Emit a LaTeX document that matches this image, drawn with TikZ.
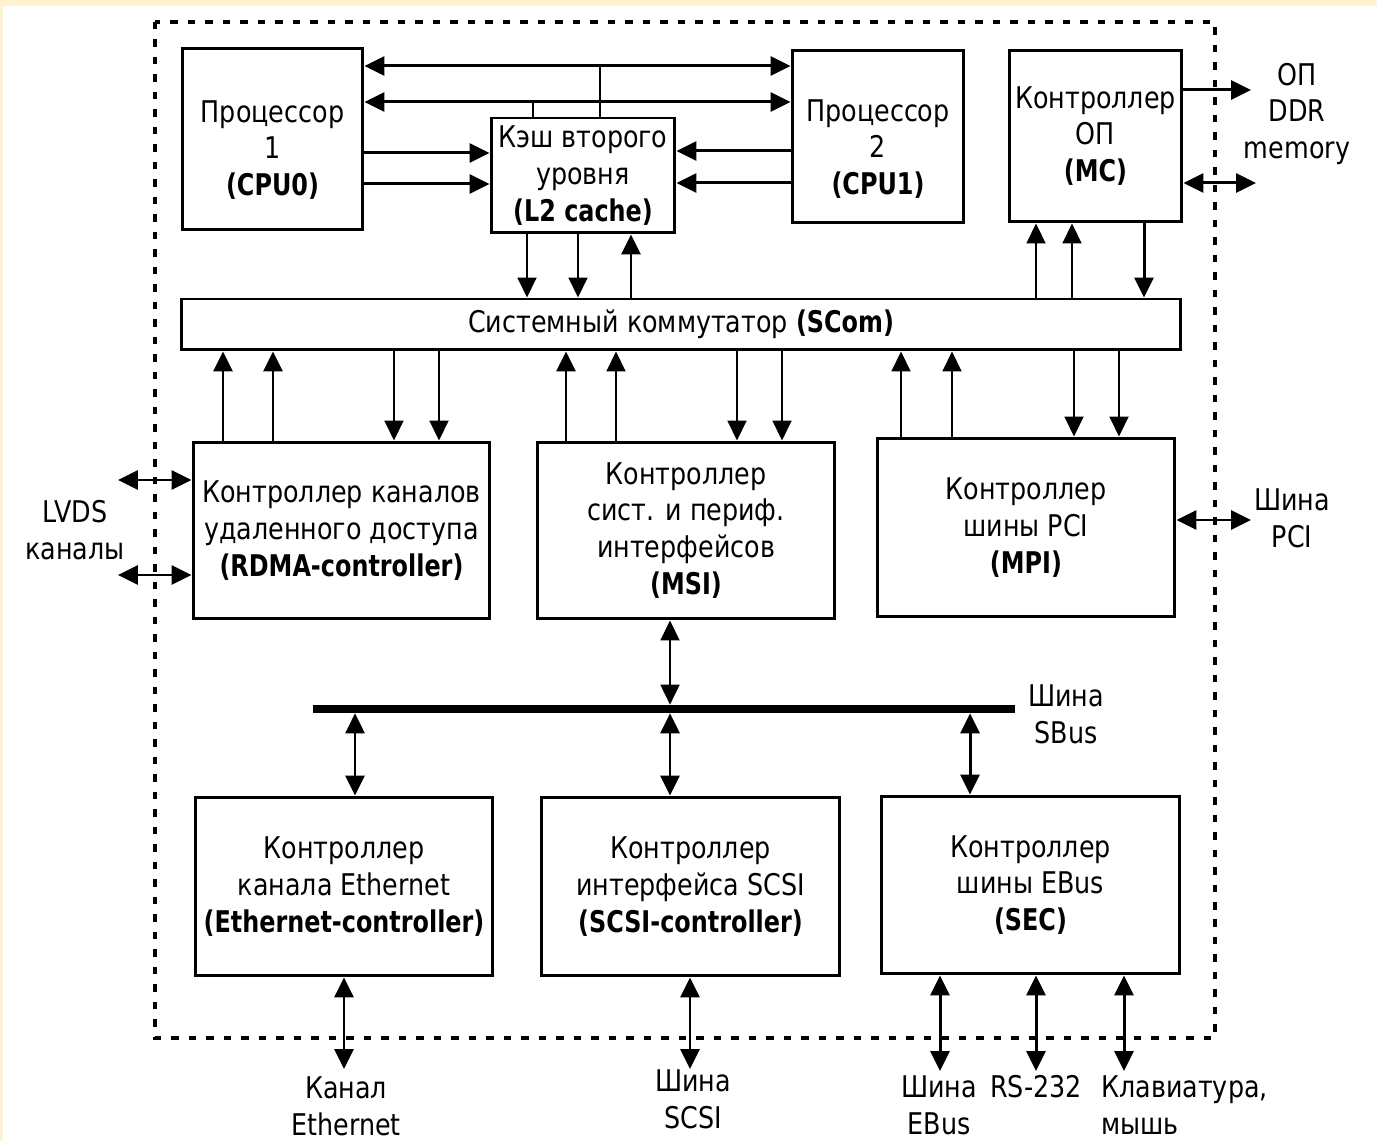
\documentclass[tikz,border=0pt]{standalone}
\usepackage{fontspec}
\setmainfont[FakeStretch=0.85, BoldFeatures={FakeStretch=0.8}]{DejaVu Sans}
\usetikzlibrary{arrows.meta,positioning}
\definecolor{paper}{RGB}{255,242,204}

\begin{document}
\begin{tikzpicture}[x=0.02cm, y=-0.02cm,
    every node/.style={font=\fontsize{17}{21}\selectfont},
    blk/.style={draw, line width=1.7pt, inner sep=2pt, align=center},
    lbl/.style={inner sep=0pt, align=center},
    ln/.style={line width=1.1pt},
    lnb/.style={line width=1.7pt},
    arr/.style={-{Triangle[length=0.4cm,width=0.38cm]}},
    darr/.style={{Triangle[length=0.4cm,width=0.38cm]}-{Triangle[length=0.4cm,width=0.38cm]}}]

  \fill[paper] (0,0) rectangle (1377,1141);
  \fill[white] (3,6) rectangle (1377,1141);
  \useasboundingbox (0,0) rectangle (1377,1141);

  \draw[line width=2pt, dash pattern=on 0.15cm off 0.2cm] (155,22) rectangle (1215,1038);

  % blocks
  \node[blk, minimum width=3.62cm, minimum height=3.64cm] (cpu0) at (272.5,139) {};
  \node[lbl] (cpu0txt) at (272.5,150) {Процессор\\1\\\textbf{(CPU0)}};
  \node[blk, minimum width=3.68cm, minimum height=2.30cm] (l2) at (583,175.5) {Кэш второго\\уровня\\\textbf{(L2 cache)}};
  \node[blk, minimum width=3.44cm, minimum height=3.46cm] (cpu1) at (878,136.5) {};
  \node[lbl] (cpu1txt) at (878,149) {Процессор\\2\\\textbf{(CPU1)}};
  \node[blk, minimum width=3.46cm, minimum height=3.44cm] (mc) at (1095.5,136) {Контроллер\\ОП\\\textbf{(MC)}};
  \node[blk, minimum width=20.0cm, minimum height=1.02cm] (scom) at (681,324.5) {Системный коммутатор \textbf{(SCom)}};
  \node[blk, minimum width=5.94cm, minimum height=3.54cm] (rdma) at (341.5,530.5) {Контроллер каналов\\удаленного доступа\\\textbf{(RDMA-controller)}};
  \node[blk, minimum width=5.96cm, minimum height=3.54cm] (msi) at (686,530.5) {Контроллер\\сист. и периф.\\интерфейсов\\\textbf{(MSI)}};
  \node[blk, minimum width=5.96cm, minimum height=3.58cm] (mpi) at (1026,527.5) {Контроллер\\шины PCI\\\textbf{(MPI)}};
  \node[fill, inner sep=0pt, minimum width=14.04cm, minimum height=0.16cm] (sbus) at (664,709) {};
  \node[blk, minimum width=5.96cm, minimum height=3.58cm] (eth) at (344,886.5) {Контроллер\\канала Ethernet\\\textbf{(Ethernet-controller)}};
  \node[blk, minimum width=5.98cm, minimum height=3.58cm] (scsi) at (690.5,886.5) {Контроллер\\интерфейса SCSI\\\textbf{(SCSI-controller)}};
  \node[blk, minimum width=5.98cm, minimum height=3.56cm] (sec) at (1030.5,885) {Контроллер\\шины EBus\\\textbf{(SEC)}};

  % outside labels
  \node[lbl] (ddr) at (1297,114) {ОП\\DDR\\memory};
  \node[lbl] (pci) at (1292,518) {Шина\\PCI};
  \node[lbl] (lvds) at (75,530) {LVDS\\каналы};
  \node[lbl] (sbuslbl) at (1066,714) {Шина\\SBus};
  \node[lbl] (ethlbl) at (346,1106) {Канал\\Ethernet};
  \node[lbl] (scsilbl) at (693,1099) {Шина\\SCSI};
  \node[lbl] (ebuslbl) at (939,1105) {Шина\\EBus};
  \node[lbl] (rslbl) at (1036,1087) {RS-232};
  \node[lbl, align=left, anchor=west] (kbdlbl) at (1101,1105) {Клавиатура,\\мышь};

  \coordinate (ddrout) at (1251,90);
  \coordinate (ddrio) at (1256,183);
  \coordinate (pciio) at (1251,520);
  \coordinate (lvdsa) at (118,480);
  \coordinate (lvdsb) at (118,575);
  \coordinate (ethio) at (344,1069);
  \coordinate (scsiio) at (690,1069);
  \coordinate (ebusio) at (940,1071);
  \coordinate (rsio) at (1036,1071);
  \coordinate (kbdio) at (1124,1071);

  % processors and cache
  \draw[lnb, darr] (cpu0.east |- 0,66) -- (cpu1.west |- 0,66);
  \draw[lnb, darr] (cpu0.east |- 0,102) -- (cpu1.west |- 0,102);
  \draw[ln] (cpu0.east -| 600,0) ++(0,-73) -- (l2.north -| 600,0);
  \draw[ln] (cpu0.east -| 533,0) ++(0,-37) -- (l2.north -| 533,0);
  \draw[lnb, arr] (cpu0.east |- 0,153) -- (l2.west |- 0,153);
  \draw[lnb, arr] (cpu0.east |- 0,184) -- (l2.west |- 0,184);
  \draw[lnb, arr] (cpu1.west |- 0,151) -- (l2.east |- 0,151);
  \draw[lnb, arr] (cpu1.west |- 0,183) -- (l2.east |- 0,183);

  \draw[ln, arr] (l2.south -| 527,0) -- (scom.north -| 527,0);
  \draw[ln, arr] (l2.south -| 578,0) -- (scom.north -| 578,0);
  \draw[lnb, arr] (scom.north -| 631,0) -- (l2.south -| 631,0);

  % memory controller
  \draw[ln, arr] (scom.north -| 1036,0) -- (mc.south -| 1036,0);
  \draw[ln, arr] (scom.north -| 1072,0) -- (mc.south -| 1072,0);
  \draw[lnb, arr] (mc.south -| 1144,0) -- (scom.north -| 1144,0);
  \draw[lnb, arr] (mc.east |- ddrout) -- (ddrout);
  \draw[lnb, darr] (mc.east |- ddrio) -- (ddrio);

  % scom to controllers
  \draw[lnb, arr] (rdma.north -| 223,0) -- (scom.south -| 223,0);
  \draw[lnb, arr] (rdma.north -| 273,0) -- (scom.south -| 273,0);
  \draw[ln, arr] (scom.south -| 394,0) -- (rdma.north -| 394,0);
  \draw[ln, arr] (scom.south -| 439,0) -- (rdma.north -| 439,0);
  \draw[lnb, arr] (msi.north -| 566,0) -- (scom.south -| 566,0);
  \draw[ln, arr] (msi.north -| 616,0) -- (scom.south -| 616,0);
  \draw[ln, arr] (scom.south -| 737,0) -- (msi.north -| 737,0);
  \draw[ln, arr] (scom.south -| 782,0) -- (msi.north -| 782,0);
  \draw[ln, arr] (mpi.north -| 901,0) -- (scom.south -| 901,0);
  \draw[ln, arr] (mpi.north -| 952,0) -- (scom.south -| 952,0);
  \draw[ln, arr] (scom.south -| 1074,0) -- (mpi.north -| 1074,0);
  \draw[ln, arr] (scom.south -| 1119,0) -- (mpi.north -| 1119,0);

  \draw[lnb, darr] (lvdsa) -- (rdma.west |- lvdsa);
  \draw[lnb, darr] (lvdsb) -- (rdma.west |- lvdsb);
  \draw[lnb, darr] (mpi.east |- pciio) -- (pciio);

  % sbus
  \draw[ln, darr] (msi.south -| 670,0) -- (sbus.north -| 670,0);
  \draw[lnb, darr] (sbus.south -| 355,0) -- (eth.north -| 355,0);
  \draw[lnb, darr] (sbus.south -| 670,0) -- (scsi.north -| 670,0);
  \draw[lnb, darr] (sbus.south -| 970,0) -- (sec.north -| 970,0);

  % outputs
  \draw[lnb, darr] (eth.south -| ethio) -- (ethio);
  \draw[lnb, darr] (scsi.south -| scsiio) -- (scsiio);
  \draw[lnb, darr] (sec.south -| ebusio) -- (ebusio);
  \draw[lnb, darr] (sec.south -| rsio) -- (rsio);
  \draw[lnb, darr] (sec.south -| kbdio) -- (kbdio);
\end{tikzpicture}
\end{document}
